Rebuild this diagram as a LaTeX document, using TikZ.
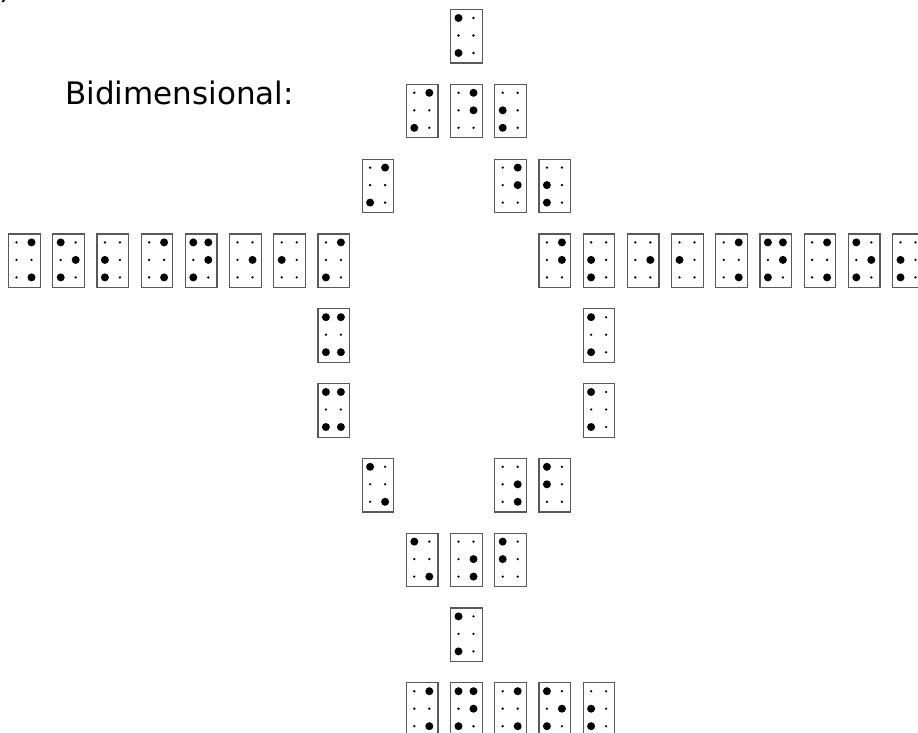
\documentclass[tikz,border=0pt]{standalone}
\usepackage{fontspec}
\setmainfont{DejaVu Sans}
\usetikzlibrary{calc}
\tikzset{
  brbox/.style={draw=black!65, line width=1.2pt, minimum width=31.5pt, minimum height=53.5pt, inner sep=0pt, anchor=north west},
  smalldot/.style={fill=black},
  bigdot/.style={fill=black}
}
\newcommand\brl[4]{%
  \node[brbox] (#1) at ({8+44.2*(#2)},{9+74.8*(#3)}) {};
  \foreach \dx/\dy in {8.5/9,8.5/26.5,8.5/44,23.5/9,23.5/26.5,23.5/44}
    \fill[smalldot] ($(#1.north west)+(\dx,\dy)$) circle (1.3pt);
  \foreach \k in {#4}{%
    \pgfmathsetmacro\bx{8.5+15*(\k>3)}%
    \pgfmathsetmacro\by{9+17.5*mod(\k-1,3)}%
    \fill[bigdot] ($(#1.north west)+(\bx,\by)$) circle (4pt);
  }%
}
\begin{document}
\begin{tikzpicture}[x=1pt,y=-1pt]
\useasboundingbox (0,0) rectangle (918,733);
\node[anchor=south, inner sep=0pt, font=\fontsize{31}{37}\selectfont] (paren) at (6,3) {)};
\node[anchor=base west, inner sep=0pt, font=\fontsize{31}{37}\selectfont] (title) at (65,105) {Bidimensional:};
% row 0
\brl{r0c10}{10}{0}{1,3}
% row 1
\brl{r1c9}{9}{1}{3,4}
\brl{r1c10}{10}{1}{4,5}
\brl{r1c11}{11}{1}{2,3}
% row 2
\brl{r2c8}{8}{2}{3,4}
\brl{r2c11}{11}{2}{4,5}
\brl{r2c12}{12}{2}{2,3}
% row 3 left
\brl{r3c0}{0}{3}{4,6}
\brl{r3c1}{1}{3}{1,3,5}
\brl{r3c2}{2}{3}{2,3}
\brl{r3c3}{3}{3}{4,6}
\brl{r3c4}{4}{3}{1,3,4,5}
\brl{r3c5}{5}{3}{5}
\brl{r3c6}{6}{3}{2}
\brl{r3c7}{7}{3}{3,4}
% row 3 right
\brl{r3c12}{12}{3}{4,5}
\brl{r3c13}{13}{3}{2,3}
\brl{r3c14}{14}{3}{5}
\brl{r3c15}{15}{3}{2}
\brl{r3c16}{16}{3}{4,6}
\brl{r3c17}{17}{3}{1,3,4,5}
\brl{r3c18}{18}{3}{4,6}
\brl{r3c19}{19}{3}{1,3,5}
\brl{r3c20}{20}{3}{2,3}
% rows 4-5
\brl{r4c7}{7}{4}{1,3,4,6}
\brl{r4c13}{13}{4}{1,3}
\brl{r5c7}{7}{5}{1,3,4,6}
\brl{r5c13}{13}{5}{1,3}
% row 6
\brl{r6c8}{8}{6}{1,6}
\brl{r6c11}{11}{6}{5,6}
\brl{r6c12}{12}{6}{1,2}
% row 7
\brl{r7c9}{9}{7}{1,6}
\brl{r7c10}{10}{7}{5,6}
\brl{r7c11}{11}{7}{1,2}
% row 8
\brl{r8c10}{10}{8}{1,3}
% row 9
\brl{r9c9}{9}{9}{4,6}
\brl{r9c10}{10}{9}{1,3,4,5}
\brl{r9c11}{11}{9}{4,6}
\brl{r9c12}{12}{9}{1,3,5}
\brl{r9c13}{13}{9}{2,3}
\end{tikzpicture}
\end{document}
